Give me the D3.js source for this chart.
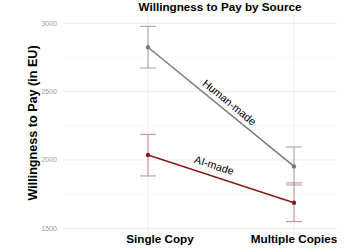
<!DOCTYPE html>
<meta charset="utf-8">
<script src="https://d3js.org/d3.v7.min.js"></script>
<style>
  body { margin: 0; background: #fff; }
  text { font-family: "Liberation Sans", Arial, sans-serif; }
</style>
<div id="chart"></div>
<script>
// data
var categories = ["Single Copy", "Multiple Copies"];
var sources = ["Human-made", "AI-made"];
var humanMean = [2825, 1953];
var humanLow = [2673, 1817];
var humanHigh = [2978, 2095];
var aiMean = [2036, 1687];
var aiLow = [1883, 1549];
var aiHigh = [2187, 1832];
var yTicks = [1500, 2000, 2500, 3000];
var yMinor = [1750, 2250, 2750];

var colors = {"Human-made": "#7a7a7a", "AI-made": "#8b1a1a"};
var barColors = {"Human-made": "#a0a0a0", "AI-made": "#c48a8a"};

var series = [
  {name: "Human-made", mean: humanMean, low: humanLow, high: humanHigh},
  {name: "AI-made", mean: aiMean, low: aiLow, high: aiHigh}
];

var W = 350, H = 250;
var panel = {left: 63, right: 337, top: 14, bottom: 236};

var svg = d3.select("#chart").append("svg")
    .attr("width", W)
    .attr("height", H);

var x = d3.scalePoint()
    .domain(categories)
    .range([148, 294]);

var y = d3.scaleLinear()
    .domain([1500, 3000])
    .range([228.3, 23.3]);

// grid
svg.append("g").selectAll("line.minor")
  .data(yMinor).enter().append("line")
    .attr("x1", panel.left).attr("x2", panel.right)
    .attr("y1", d => y(d)).attr("y2", d => y(d))
    .attr("stroke", "#f3f3f3").attr("stroke-width", 0.6);

svg.append("g").selectAll("line.major")
  .data(yTicks).enter().append("line")
    .attr("x1", panel.left).attr("x2", panel.right)
    .attr("y1", d => y(d)).attr("y2", d => y(d))
    .attr("stroke", "#ebebeb").attr("stroke-width", 1);

svg.append("g").selectAll("line.vgrid")
  .data(categories).enter().append("line")
    .attr("x1", d => x(d)).attr("x2", d => x(d))
    .attr("y1", panel.top).attr("y2", panel.bottom)
    .attr("stroke", "#ebebeb").attr("stroke-width", 1);

// y tick labels
svg.append("g").selectAll("text")
  .data(yTicks).enter().append("text")
    .attr("x", 57)
    .attr("y", d => y(d))
    .attr("dy", "0.35em")
    .attr("text-anchor", "end")
    .attr("font-size", "7px")
    .attr("fill", "#9a9a9a")
    .text(d => d);

// x labels (the first one sits a little right of its point in the original)
var labelShift = [12, 0];
svg.append("g").selectAll("text")
  .data(categories).enter().append("text")
    .attr("x", (d, i) => x(d) + labelShift[i])
    .attr("y", 243)
    .attr("text-anchor", "middle")
    .attr("font-size", "11.7px")
    .attr("font-weight", "bold")
    .attr("fill", "#000")
    .text(d => d);

// axis title
svg.append("text")
    .attr("transform", "translate(36.5,123) rotate(-90)")
    .attr("text-anchor", "middle")
    .attr("font-size", "12.6px")
    .attr("font-weight", "bold")
    .text("Willingness to Pay (in EU)");

// title
svg.append("text")
    .attr("x", 220)
    .attr("y", 11)
    .attr("text-anchor", "middle")
    .attr("font-size", "11.7px")
    .attr("font-weight", "bold")
    .text("Willingness to Pay by Source");

var line = d3.line()
    .x((d, i) => x(categories[i]))
    .y(d => y(d));

series.forEach(function(s) {
  var g = svg.append("g");

  // error bars
  categories.forEach(function(c, i) {
    var cx = x(c);
    g.append("line")
      .attr("x1", cx).attr("x2", cx)
      .attr("y1", y(s.low[i])).attr("y2", y(s.high[i]))
      .attr("stroke", barColors[s.name]).attr("stroke-width", 1);
    [s.low[i], s.high[i]].forEach(function(v) {
      g.append("line")
        .attr("x1", cx - 8).attr("x2", cx + 8)
        .attr("y1", y(v)).attr("y2", y(v))
        .attr("stroke", barColors[s.name]).attr("stroke-width", 1);
    });
  });

  g.append("path")
    .datum(s.mean)
    .attr("d", line)
    .attr("fill", "none")
    .attr("stroke", colors[s.name])
    .attr("stroke-width", 1.5);

  g.selectAll("circle")
    .data(s.mean).enter().append("circle")
      .attr("cx", (d, i) => x(categories[i]))
      .attr("cy", d => y(d))
      .attr("r", 2.2)
      .attr("fill", colors[s.name]);

  // label along the line
  var x0 = x(categories[0]), x1 = x(categories[1]);
  var y0 = y(s.mean[0]), y1 = y(s.mean[1]);
  var t = s.name === "Human-made" ? 0.52 : 0.43;
  var ang = Math.atan2(y1 - y0, x1 - x0) * 180 / Math.PI;
  g.append("text")
    .attr("transform", "translate(" + (x0 + t * (x1 - x0)) + "," + (y0 + t * (y1 - y0)) + ") rotate(" + ang + ")")
    .attr("y", s.name === "Human-made" ? -5 : -7)
    .attr("text-anchor", "middle")
    .attr("font-size", "10.8px")
    .attr("fill", "#000")
    .text(s.name);
});
</script>
